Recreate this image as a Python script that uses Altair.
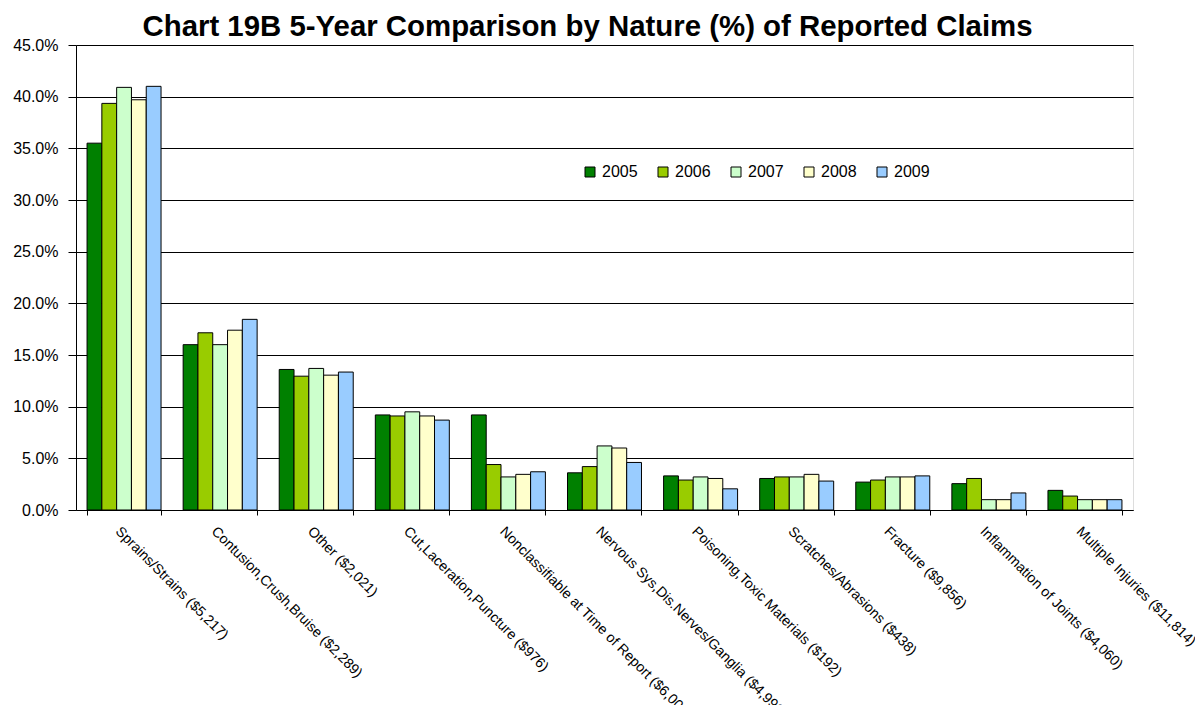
import altair as alt
import pandas as pd

categories = [
    "Sprains/Strains ($5,217)",
    "Contusion,Crush,Bruise ($2,289)",
    "Other ($2,021)",
    "Cut,Laceration,Puncture ($976)",
    "Nonclassifiable at Time of Report ($6,006)",
    "Nervous Sys,Dis.Nerves/Ganglia ($4,996)",
    "Poisoning,Toxic Materials ($192)",
    "Scratches/Abrasions ($438)",
    "Fracture ($9,856)",
    "Inflammation of Joints ($4,060)",
    "Multiple Injuries ($11,814)",
]
years = ["2005", "2006", "2007", "2008", "2009"]
colors = ["#008000", "#99CC00", "#CCFFCC", "#FFFFCC", "#99CCFF"]

v2005 = [35.5, 16.0, 13.6, 9.2, 9.2, 3.6, 3.3, 3.05, 2.7, 2.55, 1.9]
v2006 = [39.35, 17.15, 12.95, 9.1, 4.4, 4.2, 2.9, 3.2, 2.9, 3.05, 1.35]
v2007 = [40.9, 16.0, 13.7, 9.5, 3.2, 6.2, 3.2, 3.2, 3.2, 1.0, 1.0]
v2008 = [39.7, 17.4, 13.05, 9.1, 3.45, 6.0, 3.05, 3.45, 3.2, 1.0, 1.0]
v2009 = [41.0, 18.45, 13.35, 8.7, 3.7, 4.6, 2.05, 2.8, 3.3, 1.65, 1.0]

series = [v2005, v2006, v2007, v2008, v2009]
rows = []
for y, vals in zip(years, series):
    for c, v in zip(categories, vals):
        rows.append({"Nature": c, "Year": y, "Pct": v / 100.0})
df = pd.DataFrame(rows)

FONT = "Liberation Sans"

chart = alt.Chart(df).mark_bar(stroke="black", strokeWidth=1).encode(
    x=alt.X(
        "Nature:N",
        sort=categories,
        scale=alt.Scale(paddingInner=0.23, paddingOuter=0.115),
        axis=alt.Axis(
            title=None,
            labelAngle=45,
            labelAlign="left",
            labelBaseline="top",
            labelFontSize=14.2,
            labelFont=FONT,
            labelColor="black",
            labelPadding=9,
            labelOffset=-2,
            labelLimit=0,
            labelOverlap=False,
            tickBand="extent",
            tickSize=5,
            tickColor="black",
            domainColor="black",
            grid=False,
        ),
    ),
    xOffset=alt.XOffset("Year:N", sort=years, scale=alt.Scale(paddingInner=0, paddingOuter=0)),
    y=alt.Y(
        "Pct:Q",
        scale=alt.Scale(domain=[0, 0.45], nice=False),
        axis=alt.Axis(
            title=None,
            format=".1%",
            values=[0, 0.05, 0.10, 0.15, 0.20, 0.25, 0.30, 0.35, 0.40, 0.45],
            labelFontSize=16,
            labelFont=FONT,
            labelColor="black",
            labelPadding=10,
            tickSize=8,
            tickColor="black",
            domainColor="black",
            grid=True,
            gridColor="black",
            gridWidth=1,
        ),
    ),
    fill=alt.Fill(
        "Year:N",
        sort=years,
        scale=alt.Scale(domain=years, range=colors),
        legend=alt.Legend(
            title=None,
            orient="none",
            legendX=506,
            legendY=119,
            direction="horizontal",
            columns=5,
            columnPadding=17,
            symbolType="square",
            symbolSize=100,
            symbolStrokeColor="black",
            symbolStrokeWidth=1,
            labelFontSize=16,
            labelFont=FONT,
            labelColor="black",
            labelOffset=4,
        ),
    ),
).properties(
    width=1057,
    height=465,
    padding={"left": 68, "top": 37, "right": 62, "bottom": 195},
    autosize=alt.AutoSizeParams(type="none"),
    title=alt.TitleParams(
        "Chart 19B 5-Year Comparison by Nature (%) of Reported Claims",
        font=FONT,
        fontSize=29.4,
        fontWeight="bold",
        color="black",
        anchor="middle",
        dx=-17,
        dy=11,
        offset=6,
    ),
).configure_view(stroke="#808080", strokeWidth=1).configure(background="white")

chart.save("out.html", embed_options={"renderer": "svg", "actions": False})
